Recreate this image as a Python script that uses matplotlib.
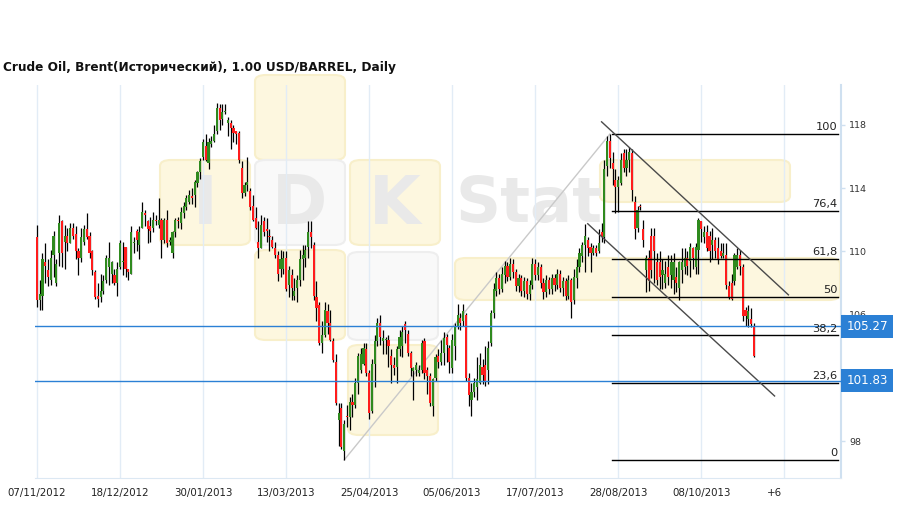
import matplotlib
matplotlib.use("Agg")
import matplotlib.pyplot as plt
from matplotlib.patches import FancyBboxPatch
from matplotlib.transforms import blended_transform_factory

TITLE = "Crude Oil, Brent(Исторический), 1.00 USD/BARREL, Daily"

# daily candles, index 0 = 07/11/2012
opens = [
    110.9, 106.9, 107.2, 109.3, 108.8, 108.2, 109.8, 108.0, 109.9, 111.9,
    110.6, 111.0, 110.5, 111.5, 111.1, 110.0, 109.6, 110.6, 111.4, 111.0,
    110.0, 108.7, 107.2, 107.1, 107.5, 108.2, 109.0, 108.6, 108.5, 108.0,
    109.0, 109.3, 110.3, 108.9, 108.6, 110.5, 111.3, 110.4, 111.5, 112.4,
    111.9, 111.6, 111.5, 112.0, 111.7, 112.0, 110.7, 112.0, 110.6, 109.9,
    111.2, 112.0, 111.8, 112.4, 112.8, 113.1, 113.5, 113.6, 114.3, 115.0,
    116.0, 116.7, 115.6, 116.8, 117.0, 117.6, 119.1, 118.4, 118.8, 118.1,
    118.1, 117.8, 117.6, 117.5, 115.3, 113.7, 114.2, 113.8, 112.9, 112.1,
    110.6, 110.2, 111.9, 111.4, 111.0, 110.7, 110.2, 109.8, 108.9, 108.9,
    109.6, 107.9, 108.5, 107.2, 107.7, 108.2, 109.5, 109.6, 110.3, 111.2,
    110.4, 107.1, 106.6, 104.2, 104.7, 106.2, 105.5, 104.3, 103.0, 99.3,
    100.1, 97.4, 99.6, 99.5, 100.5, 100.3, 101.7, 102.5, 102.9, 103.8,
    102.3, 99.9, 102.9, 104.3, 105.5, 104.3, 104.4, 104.4, 103.4, 102.8,
    102.7, 103.8, 104.0, 105.4, 104.8, 103.6, 102.4, 102.5, 102.3, 102.5,
    104.3, 102.5, 102.1, 100.2, 102.0, 103.4, 103.0, 103.6, 104.6, 103.9,
    102.6, 104.0, 105.3, 105.8, 105.6, 106.0, 102.0, 100.6, 101.1, 101.4,
    101.7, 102.7, 102.8, 102.5, 104.2, 106.1, 107.5, 108.3, 107.6, 108.5,
    109.1, 108.4, 109.2, 108.7, 107.8, 108.3, 107.5, 108.1, 107.3, 107.9,
    109.2, 108.5, 109.0, 108.0, 107.4, 108.2, 107.6, 108.3, 107.9, 108.6,
    107.7, 108.1, 107.2, 108.2, 106.9, 108.3, 109.0, 109.7, 110.4, 110.7,
    110.3, 109.9, 110.2, 110.0, 111.2, 110.9, 115.4, 117.0, 115.6, 114.5,
    114.1, 114.3, 116.2, 115.3, 115.8, 116.2, 113.1, 111.5, 112.9, 111.4,
    108.8, 109.6, 111.0, 111.0, 109.3, 109.3, 108.5, 108.0, 109.0, 108.5,
    108.2, 108.4, 107.7, 108.8, 109.0, 109.6, 109.4, 110.2, 109.0, 110.1,
    111.9, 110.9, 111.2, 111.0, 110.4, 110.7, 110.2, 110.0, 109.7, 109.8,
    107.8, 108.0, 108.1, 109.0, 109.8, 109.0, 106.3, 105.7, 105.7, 105.3,
]
highs = [
    111.7, 108.2, 109.9, 110.5, 109.5, 110.1, 111.3, 109.5, 112.3, 112.0,
    111.7, 111.5, 111.8, 111.8, 111.6, 110.2, 111.5, 111.7, 112.4, 111.2,
    110.1, 108.8, 108.0, 108.6, 108.5, 109.8, 110.6, 109.4, 108.9, 109.3,
    110.7, 110.6, 110.3, 108.9, 111.6, 110.9, 111.4, 111.6, 113.1, 112.6,
    112.0, 112.2, 112.5, 112.3, 113.4, 112.1, 112.1, 112.6, 110.9, 111.3,
    112.1, 112.2, 112.8, 113.1, 113.6, 113.9, 114.0, 114.5, 115.1, 115.9,
    117.1, 117.4, 117.2, 117.3, 118.0, 119.4, 119.3, 119.3, 119.3, 118.5,
    118.3, 118.0, 117.6, 117.6, 115.7, 114.4, 116.0, 114.0, 113.6, 112.8,
    111.9, 112.3, 112.2, 112.1, 111.4, 111.0, 110.6, 110.0, 110.1, 110.0,
    110.0, 109.1, 108.9, 108.3, 108.5, 110.1, 110.4, 110.4, 111.9, 111.9,
    110.6, 108.1, 106.8, 105.6, 106.8, 106.7, 106.3, 104.5, 103.5, 100.4,
    100.4, 99.3, 100.3, 100.8, 101.0, 102.0, 103.6, 103.9, 104.2, 104.2,
    102.5, 103.2, 104.7, 105.8, 106.0, 105.0, 104.6, 104.7, 103.8, 103.3,
    104.0, 105.0, 105.3, 105.6, 105.0, 103.7, 102.7, 103.0, 102.8, 104.4,
    104.5, 102.7, 102.3, 102.0, 103.5, 103.8, 104.4, 104.9, 104.8, 104.1,
    104.8, 105.5, 106.7, 106.1, 106.7, 106.1, 102.3, 101.7, 102.0, 103.3,
    103.6, 103.2, 104.0, 104.3, 106.3, 108.0, 108.7, 108.6, 109.0, 109.4,
    109.3, 109.6, 109.5, 108.9, 108.6, 108.5, 108.4, 108.3, 108.2, 109.6,
    109.5, 109.3, 109.2, 108.3, 108.5, 108.4, 108.6, 108.6, 108.9, 108.8,
    108.4, 108.3, 108.5, 108.3, 108.9, 109.5, 110.2, 110.6, 111.75, 110.9,
    110.5, 110.4, 110.4, 111.4, 111.8, 115.8, 117.3, 117.43, 116.3, 115.2,
    114.8, 116.2, 116.5, 116.5, 116.6, 116.5, 113.5, 112.9, 113.0, 112.0,
    109.8, 110.1, 111.5, 111.5, 109.9, 110.0, 109.5, 109.4, 109.8, 109.8,
    109.9, 109.0, 109.4, 110.2, 110.2, 110.0, 110.5, 110.3, 110.5, 112.1,
    111.9, 111.6, 111.7, 111.3, 111.5, 110.9, 110.9, 110.5, 110.5, 110.5,
    108.1, 108.6, 109.9, 110.2, 110.1, 109.2, 106.5, 106.6, 106.4, 105.5,
]
lows = [
    106.5, 106.3, 106.3, 108.0, 107.8, 107.9, 108.4, 107.8, 109.1, 109.0,
    108.9, 110.0, 110.5, 110.8, 109.5, 108.5, 109.3, 110.4, 110.8, 109.6,
    108.5, 107.0, 106.5, 106.8, 107.3, 108.0, 107.9, 108.0, 107.9, 107.2,
    108.9, 108.5, 108.4, 108.2, 108.6, 109.9, 110.0, 109.5, 111.5, 111.6,
    110.5, 110.6, 111.2, 111.7, 111.5, 109.6, 110.5, 110.3, 110.4, 109.6,
    110.9, 111.5, 111.4, 112.1, 112.6, 113.0, 113.0, 112.8, 114.1, 114.6,
    115.8, 115.7, 115.2, 116.6, 116.9, 117.4, 117.7, 118.0, 118.7, 117.3,
    116.5, 116.9, 116.8, 115.6, 113.4, 113.5, 113.8, 112.6, 111.9, 111.4,
    109.6, 110.2, 111.0, 110.6, 110.0, 110.2, 109.6, 108.1, 108.4, 108.6,
    107.5, 107.1, 106.9, 106.9, 106.8, 107.8, 108.2, 109.0, 109.6, 110.2,
    106.9, 105.6, 104.1, 103.6, 104.6, 104.8, 104.3, 103.0, 100.3, 97.7,
    97.5, 96.8, 98.9, 98.7, 99.5, 100.1, 101.0, 102.3, 102.8, 102.1,
    99.4, 99.8, 101.4, 104.0, 104.1, 103.5, 103.5, 102.7, 101.7, 102.2,
    101.7, 103.4, 103.3, 104.2, 103.4, 102.1, 100.6, 102.1, 102.1, 102.3,
    101.9, 101.0, 100.2, 99.6, 101.8, 102.6, 102.8, 102.8, 103.0, 102.3,
    102.3, 103.1, 105.1, 105.0, 105.3, 101.8, 100.2, 99.6, 100.8, 100.6,
    101.6, 101.6, 101.5, 101.6, 104.0, 105.8, 107.2, 107.3, 107.4, 108.0,
    108.1, 108.2, 108.3, 107.5, 107.4, 107.2, 107.1, 107.0, 106.9, 107.6,
    108.2, 108.2, 107.7, 107.0, 107.1, 107.3, 107.3, 107.5, 107.6, 107.4,
    107.2, 106.9, 107.0, 105.8, 106.7, 107.7, 108.7, 109.3, 108.7, 109.7,
    108.7, 109.8, 109.7, 109.9, 110.6, 110.5, 114.8, 115.3, 114.2, 112.4,
    112.5, 114.2, 115.0, 114.8, 115.0, 113.2, 110.8, 111.2, 112.6, 110.3,
    107.4, 107.5, 108.3, 108.0, 107.9, 107.6, 107.6, 107.7, 107.9, 107.7,
    107.3, 107.4, 106.9, 108.0, 108.6, 108.5, 108.4, 108.9, 108.6, 108.6,
    110.6, 110.5, 110.0, 109.3, 109.5, 109.6, 109.2, 109.6, 109.6, 107.6,
    107.0, 106.9, 107.9, 108.9, 108.5, 105.6, 105.3, 105.2, 105.2, 103.3,
]
closes = [
    106.9, 107.3, 109.5, 109.1, 108.4, 109.6, 111.0, 109.2, 111.8, 109.9,
    111.0, 110.5, 111.5, 111.0, 110.0, 109.6, 110.9, 111.4, 110.9, 109.9,
    108.8, 107.1, 107.0, 107.5, 108.1, 109.6, 109.6, 109.3, 108.0, 108.9,
    110.5, 109.4, 108.9, 108.7, 111.2, 110.6, 110.7, 111.2, 112.5, 112.3,
    111.4, 111.3, 112.0, 111.9, 112.0, 110.7, 112.0, 110.5, 110.7, 111.2,
    112.0, 111.9, 112.5, 112.9, 113.4, 113.6, 113.4, 114.4, 115.0, 115.7,
    116.9, 115.8, 116.9, 117.0, 117.4, 119.1, 118.3, 118.8, 118.9, 118.3,
    117.8, 117.5, 117.4, 115.8, 113.7, 114.2, 114.4, 112.8, 112.0, 111.5,
    110.2, 111.7, 111.2, 111.3, 110.9, 110.3, 109.8, 108.6, 109.5, 109.6,
    107.6, 108.8, 107.7, 107.5, 108.2, 109.5, 109.8, 110.1, 111.2, 110.9,
    107.2, 106.4, 104.2, 104.7, 106.3, 105.5, 104.4, 103.1, 100.4, 99.8,
    97.6, 99.1, 99.5, 100.5, 100.3, 101.7, 103.4, 103.5, 103.9, 102.3,
    99.8, 102.9, 104.3, 105.5, 104.6, 104.5, 104.45, 104.0, 102.8, 102.6,
    103.8, 104.6, 104.9, 105.0, 103.6, 102.6, 102.6, 102.8, 102.5, 104.2,
    102.3, 102.1, 100.4, 101.9, 103.3, 103.0, 103.6, 104.5, 104.1, 103.0,
    104.4, 105.2, 106.0, 105.5, 106.2, 102.0, 100.9, 101.1, 101.7, 101.9,
    102.8, 102.2, 101.8, 103.9, 106.1, 107.6, 108.3, 107.6, 108.6, 109.1,
    108.4, 109.2, 108.7, 107.8, 108.3, 107.5, 108.1, 107.3, 107.9, 109.2,
    108.5, 109.0, 108.0, 107.4, 108.2, 107.6, 108.3, 107.9, 108.6, 107.7,
    108.1, 107.2, 108.2, 106.8, 108.4, 109.0, 109.9, 110.4, 111.0, 110.2,
    109.9, 110.2, 109.9, 110.5, 110.9, 115.2, 117.0, 115.9, 115.2, 114.1,
    114.5, 115.8, 115.3, 115.8, 116.3, 113.9, 111.4, 112.6, 112.8, 110.7,
    109.6, 108.1, 108.8, 110.0, 108.2, 108.4, 108.8, 108.6, 108.4, 109.3,
    109.3, 108.0, 109.3, 109.3, 109.6, 109.1, 110.3, 109.6, 110.3, 112.0,
    111.4, 111.2, 110.2, 110.0, 110.7, 110.0, 109.5, 109.7, 109.9, 107.9,
    107.1, 107.0, 109.8, 109.8, 109.1, 105.9, 105.9, 106.2, 105.4, 103.4,
]

date_ticks = [0, 30, 60, 90, 120, 150, 180, 210, 240, 270]
date_labels = ["07/11/2012", "18/12/2012", "30/01/2013", "13/03/2013", "25/04/2013",
               "05/06/2013", "17/07/2013", "28/08/2013", "08/10/2013"]
future_label = "+6"
future_pos = 266.5
price_ticks = [98, 102, 106, 110, 114, 118]
hidden_ticks = [102]  # covered by the price box in the original

# fibonacci retracement between the April low and the late-August high
fib_low_idx = 111
fib_high_idx = 207
fib_names = ["100", "76,4", "61,8", "50", "38,2", "23,6", "0"]
fib_ratios = [1.0, 0.764, 0.618, 0.5, 0.382, 0.236, 0.0]

# descending channel
chan_upper_x = [204, 271.5]
chan_upper_y = [118.2, 107.25]
chan_lower_x = [199, 266.5]
chan_lower_y = [111.75, 100.85]

level_values = [105.27, 101.83]

X_MIN, X_MAX = -0.7, 290.5
Y_MIN, Y_MAX = 95.66, 120.53
W, H = 909, 509
UP, DOWN = "#2f8a1e", "#ff1c1c"
BLUE = "#2b80d5"

fig = plt.figure(figsize=(W / 100, H / 100), dpi=100)
fig.patch.set_facecolor("white")


def px_box(x, y, w, h, fc, ec):
    # rounded tile of the background logo, in pixel coords (y from top)
    p = FancyBboxPatch((x / W, 1 - (y + h) / H), w / W, h / H,
                       boxstyle="round,pad=0,rounding_size=0.012",
                       transform=fig.transFigure, facecolor=fc, edgecolor=ec,
                       linewidth=1.5, zorder=0)
    fig.patches.append(p)


yel, yel_e = "#fdf7df", "#f8efca"
wht, wht_e = "#f9f9f9", "#eeeeee"
px_box(255, 75, 90, 85, yel, yel_e)
px_box(160, 160, 90, 85, yel, yel_e)
px_box(255, 160, 90, 85, wht, wht_e)
px_box(350, 160, 90, 85, yel, yel_e)
px_box(255, 250, 90, 90, yel, yel_e)
px_box(348, 252, 90, 88, wht, wht_e)
px_box(348, 345, 90, 90, yel, yel_e)
px_box(455, 258, 385, 42, yel, yel_e)
px_box(600, 160, 190, 42, yel, yel_e)
for lx, letter in [(205, "I"), (300, "D"), (395, "K")]:
    fig.text(lx / W, 1 - 205 / H, letter, ha="center", va="center", fontsize=48,
             fontweight="bold", color="#e9e9e9", zorder=0)
fig.text(455 / W, 1 - 205 / H, "Stat", ha="left", va="center", fontsize=45,
         fontweight="bold", color="#e9e9e9", zorder=0)

ax = fig.add_axes([35 / W, 1 - 478 / H, 806 / W, 393 / H])
ax.set_zorder(1)
ax.patch.set_alpha(0)
ax.set_xlim(X_MIN, X_MAX)
ax.set_ylim(Y_MIN, Y_MAX)

for gx in date_ticks:
    ax.axvline(gx, color="#e2ecf6", lw=1, zorder=1)

# candles
xs = list(range(len(closes)))
ax.vlines(xs, lows, highs, color="black", lw=0.9, zorder=3)
bottoms, heights, colors = [], [], []
for o, c in zip(opens, closes):
    bottoms.append(min(o, c))
    heights.append(max(abs(c - o), 0.07))
    colors.append(UP if c >= o else DOWN)
ax.bar(xs, heights, bottom=bottoms, width=0.78, color=colors, lw=0, zorder=4)

# fibonacci grid
f_lo, f_hi = lows[fib_low_idx], highs[fib_high_idx]
ax.plot([fib_low_idx, fib_high_idx], [f_lo, f_hi], color="#c9c9c9", lw=1, zorder=2)
for name, r in zip(fib_names, fib_ratios):
    lvl = f_lo + r * (f_hi - f_lo)
    ax.plot([fib_high_idx + 0.8, X_MAX - 1], [lvl, lvl], color="black", lw=1, zorder=5)
    ax.text(X_MAX - 1.3, lvl + 0.12, name, ha="right", va="bottom", fontsize=8.2,
            color="#222222", zorder=6)

ax.plot(chan_upper_x, chan_upper_y, color="#4a4a4a", lw=1, zorder=5)
ax.plot(chan_lower_x, chan_lower_y, color="#4a4a4a", lw=1, zorder=5)

for v in level_values:
    ax.axhline(v, color=BLUE, lw=1, zorder=5)

for s in ["top", "left"]:
    ax.spines[s].set_visible(False)
ax.spines["right"].set_color("#cfe0f0")
ax.spines["bottom"].set_color("#dce8f3")
ax.spines["right"].set_linewidth(1.5)

ax.yaxis.tick_right()
ax.set_yticks(price_ticks)
ax.set_yticklabels(["" if t in hidden_ticks else str(t) for t in price_ticks])
ax.tick_params(axis="y", length=3, width=1, color="#cfe0f0", pad=3,
               labelsize=6.8, labelcolor="#333333")
ax.set_xticks(date_ticks[:-1] + [future_pos])
ax.set_xticklabels(date_labels + [future_label])
ax.tick_params(axis="x", length=0, pad=7, labelsize=7.4, labelcolor="#222222")

tr = blended_transform_factory(ax.transAxes, ax.transData)
for v in level_values:
    ax.annotate(f"{v:.2f}", xy=(1.0, v), xycoords=tr, xytext=(3.8, 0),
                textcoords="offset points", ha="left", va="center",
                fontsize=8.6, color="white", zorder=10, annotation_clip=False,
                bbox=dict(boxstyle="square,pad=0.42", facecolor=BLUE, edgecolor="none"))

fig.text(3 / W, 1 - 68 / H, TITLE, ha="left", va="center", fontsize=8.7,
         fontweight="bold", color="#111111")

fig.savefig("out.png", dpi=100, facecolor="white")
